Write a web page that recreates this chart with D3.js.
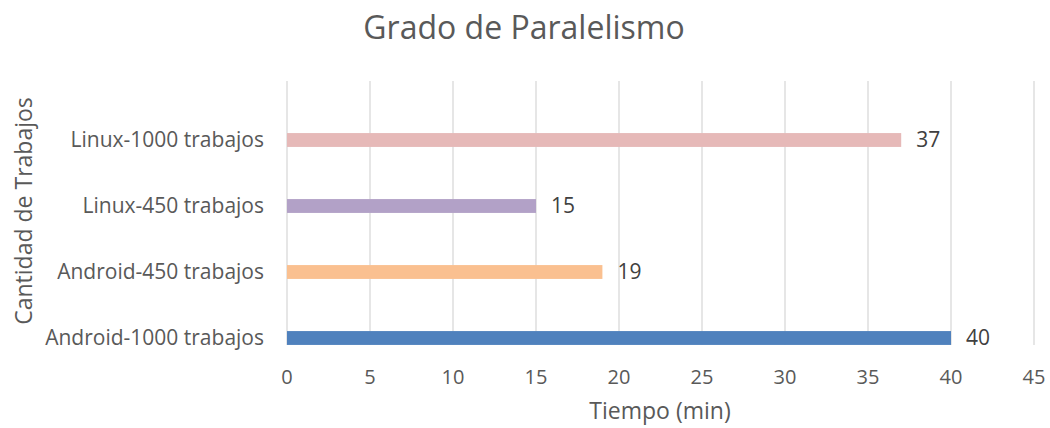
<!DOCTYPE html>
<html>
<head>
<meta charset="utf-8">
<script src="https://cdn.jsdelivr.net/npm/d3@7"></script>
<style>
  body { margin: 0; background: #fff; }
  svg text { font-family: "Open Sans", "Noto Sans", sans-serif; fill: #595959; }
</style>
</head>
<body>
<div id="chart"></div>
<script>
const categories = ["Android-1000 trabajos", "Android-450 trabajos", "Linux-450 trabajos", "Linux-1000 trabajos"]
const values = [40, 19, 15, 37]
const colors = ["#4F81BD", "#FAC090", "#B2A1C7", "#E6B9B8"]
const xTicks = [0, 5, 10, 15, 20, 25, 30, 35, 40, 45]

const width = 1050
const height = 428
const plotTop = 81
const plotBottom = 345

const svg = d3.select("#chart")
    .append("svg")
    .attr("width", width)
    .attr("height", height)

const x = d3.scaleLinear()
    .domain([0, 45])
    .range([287, 1034])

// bars sit low in each band (Excel clustered layout), so the band range is shifted down
const y = d3.scaleBand()
    .domain(categories.slice().reverse())
    .range([107, 371])
    .paddingInner(0.79)
    .paddingOuter(0.395)

// gridlines
svg.append("g")
    .selectAll("line")
    .data(xTicks)
    .join("line")
    .attr("x1", d => x(d))
    .attr("x2", d => x(d))
    .attr("y1", plotTop)
    .attr("y2", plotBottom)
    .attr("stroke", "#d9d9d9")
    .attr("stroke-width", 1.3)

svg.append("g")
    .selectAll("rect")
    .data(categories)
    .join("rect")
    .attr("x", x(0))
    .attr("y", d => y(d))
    .attr("height", y.bandwidth())
    .attr("width", (d, i) => x(values[i]) - x(0))
    .attr("fill", (d, i) => colors[i])

// value labels
svg.append("g")
    .selectAll("text")
    .data(categories)
    .join("text")
    .attr("x", (d, i) => x(values[i]) + 15)
    .attr("y", d => y(d) + y.bandwidth() / 2)
    .attr("dy", "0.35em")
    .attr("font-size", 21)
    .style("fill", "#404040")
    .text((d, i) => values[i])

// category labels
svg.append("g")
    .selectAll("text")
    .data(categories)
    .join("text")
    .attr("x", 264)
    .attr("y", d => y(d) + y.bandwidth() / 2)
    .attr("dy", "0.35em")
    .attr("text-anchor", "end")
    .attr("font-size", 21)
    .text(d => d)

// x tick labels
svg.append("g")
    .selectAll("text")
    .data(xTicks)
    .join("text")
    .attr("x", d => x(d))
    .attr("y", 377)
    .attr("dy", "0.35em")
    .attr("text-anchor", "middle")
    .attr("font-size", 20)
    .text(d => d)

svg.append("text")
    .attr("x", 524)
    .attr("y", 28)
    .attr("dy", "0.35em")
    .attr("text-anchor", "middle")
    .attr("font-size", 32)
    .text("Grado de Paralelismo")

svg.append("text")
    .attr("x", 660)
    .attr("y", 411)
    .attr("dy", "0.35em")
    .attr("text-anchor", "middle")
    .attr("font-size", 23)
    .text("Tiempo (min)")

svg.append("text")
    .attr("transform", "translate(24,211) rotate(-90)")
    .attr("dy", "0.35em")
    .attr("text-anchor", "middle")
    .attr("font-size", 23)
    .text("Cantidad de Trabajos")
</script>
</body>
</html>
